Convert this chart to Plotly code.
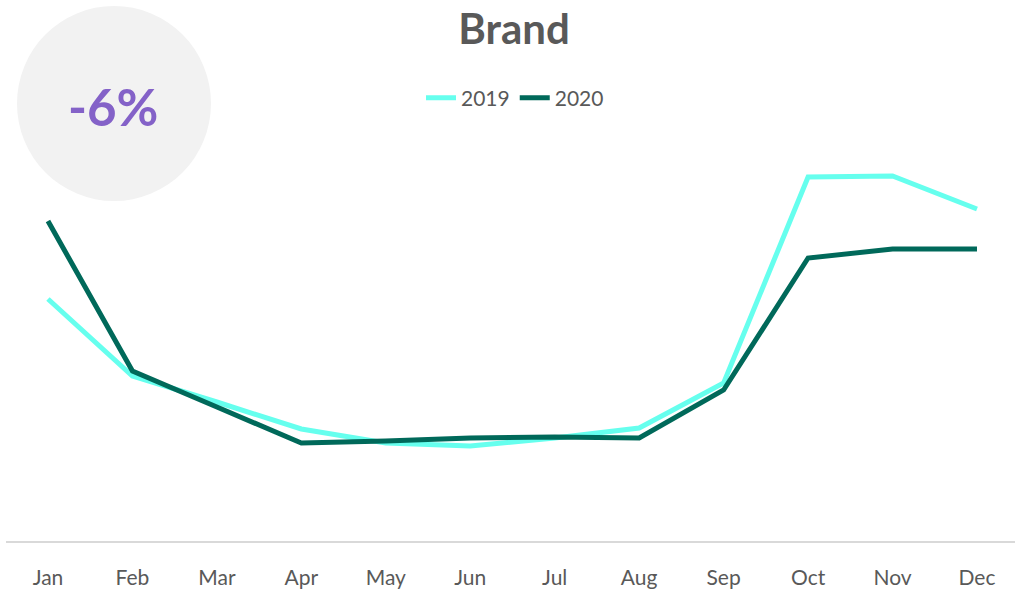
import plotly.graph_objects as go

months = ["Jan", "Feb", "Mar", "Apr", "May", "Jun", "Jul", "Aug", "Sep", "Oct", "Nov", "Dec"]
sales_2019 = [242, 165, 139, 112, 98, 95, 103, 113, 158, 364, 365, 332]
sales_2020 = [320, 170, 134, 98, 100, 103, 104, 103, 151, 283, 292, 292]
kpi_text = "-6%"
title_text = "Brand"

W, H = 1015, 594
L, R, T, B = 6, 0, 100, 53
pw, ph = W - L - R, H - T - B

def px_x(px):
    return (px - L) / pw

def px_y(py):
    return (H - B - py) / ph

fig = go.Figure()
fig.add_trace(go.Scatter(x=months, y=sales_2019, name="2019", mode="lines",
                         line=dict(color="#66FFEE", width=5)))
fig.add_trace(go.Scatter(x=months, y=sales_2020, name="2020", mode="lines",
                         line=dict(color="#00695A", width=5)))

fig.add_shape(type="circle", xref="paper", yref="paper",
              x0=px_x(17), x1=px_x(211), y0=px_y(201), y1=px_y(6),
              fillcolor="#F2F2F2", line=dict(width=0), layer="below")
fig.add_annotation(text="<b>" + kpi_text + "</b>", xref="paper", yref="paper",
                   x=px_x(113), y=px_y(106), xanchor="center", yanchor="middle",
                   showarrow=False,
                   font=dict(family="Lato", size=51, color="#8462C8"))

fig.update_layout(
    width=W, height=H,
    margin=dict(l=L, r=R, t=T, b=B, autoexpand=False),
    paper_bgcolor="white", plot_bgcolor="white",
    title=dict(text="<b>" + title_text + "</b>", xref="container", yref="container",
               x=514 / W, xanchor="center", y=1 - 29 / H, yanchor="middle",
               font=dict(family="Lato", size=42, color="#595959")),
    legend=dict(orientation="h", x=px_x(515), xanchor="center", y=px_y(98), yanchor="middle",
                font=dict(family="Lato", size=21, color="#595959"), bgcolor="rgba(0,0,0,0)"),
    xaxis=dict(range=[-0.497, 11.45], showgrid=False, showline=True, linecolor="#D9D9D9", linewidth=2,
               ticks="", tickfont=dict(family="Lato", size=21, color="#595959"),
               ticklabelstandoff=17, fixedrange=True, automargin=False),
    yaxis=dict(range=[0, ph], showgrid=False, showticklabels=False, zeroline=False,
               showline=False, fixedrange=True, automargin=False),
    showlegend=True,
)

fig.write_html("out.html")
